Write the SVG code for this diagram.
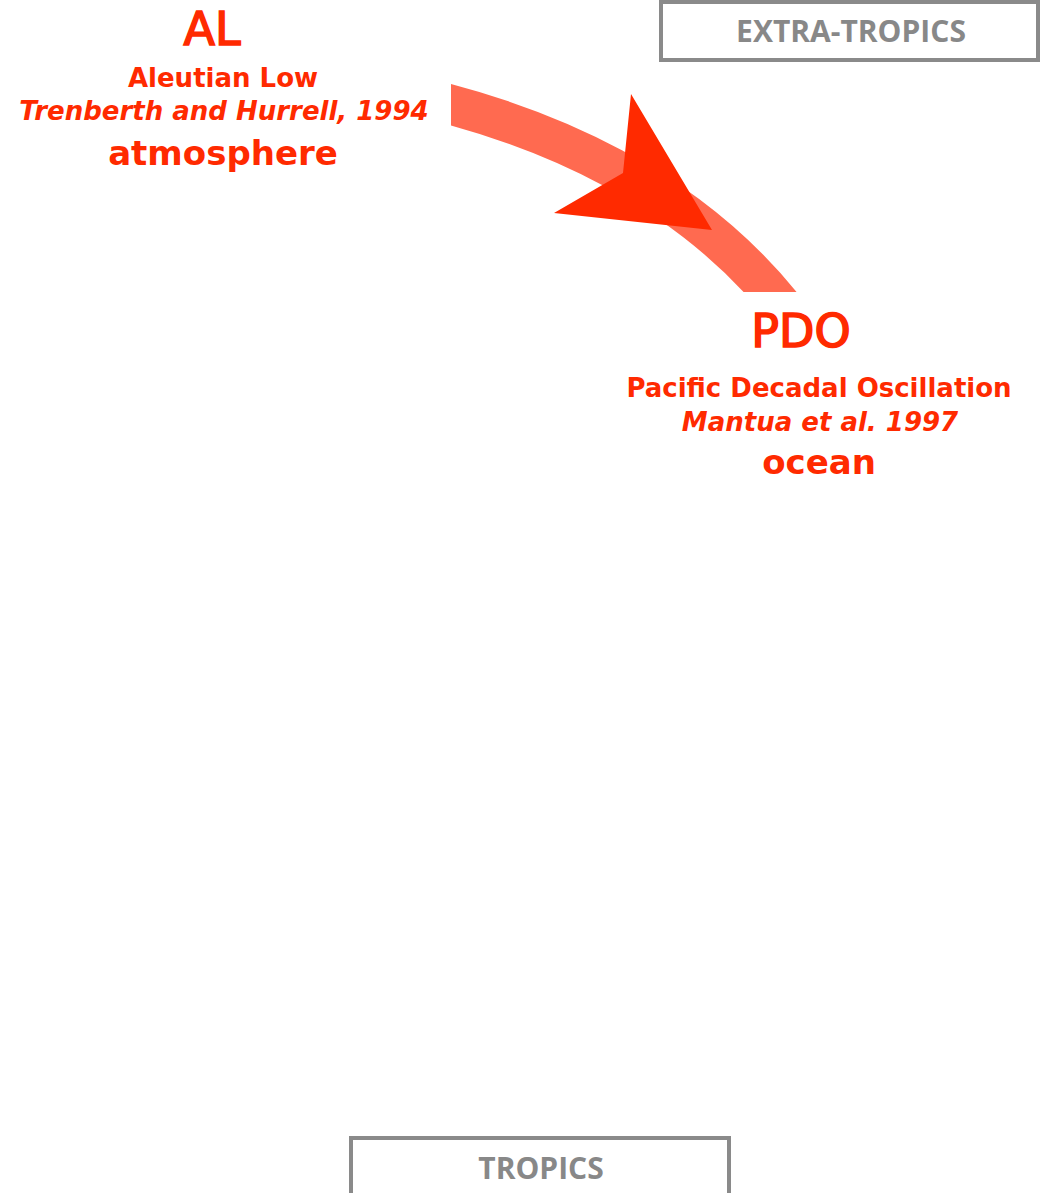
<svg xmlns="http://www.w3.org/2000/svg" width="1040" height="1193" viewBox="0 0 1040 1193">
<style>
.r{fill:#FF2A00;font-family:"DejaVu Sans",Verdana,sans-serif;text-anchor:middle}
.big{font-size:46px;stroke:#FF2A00;stroke-width:1.6}
.mid{font-size:26px;font-weight:bold}
.it{font-size:26px;font-weight:bold;font-style:italic}
.lg{font-size:34px;font-weight:bold}
.box{fill:#fff;stroke:#8a8a8a;stroke-width:4}
.bt{fill:#888;font-family:"Open Sans","DejaVu Sans",sans-serif;font-weight:bold;font-size:30px;text-anchor:middle}
</style>
<defs>
<clipPath id="arcclip"><rect x="451" y="0" width="589" height="292"/></clipPath>
</defs>
<rect width="1040" height="1193" fill="#fff"/>
<g id="connectors">
<path d="M 420 97 C 540 125 690 185 790 316" fill="none" stroke="#FF6A50" stroke-width="40" clip-path="url(#arcclip)"/>
<polygon points="631,94 712,230 554,213 623,173" fill="#FF2A00"/>
</g>
<g id="node-al">
<text class="r big" x="212" y="45">AL</text>
<text class="r mid" x="223" y="87">Aleutian Low</text>
<text class="r it" x="224" y="120">Trenberth and Hurrell, 1994</text>
<text class="r lg" x="223" y="165">atmosphere</text>
</g>
<g id="node-pdo">
<text class="r big" x="801" y="347">PDO</text>
<text class="r mid" x="819" y="397">Pacific Decadal Oscillation</text>
<text class="r it" x="820" y="431">Mantua et al. 1997</text>
<text class="r lg" x="819" y="474">ocean</text>
</g>
<g id="node-extratropics">
<rect class="box" x="661" y="2" width="377" height="58"/>
<text class="bt" x="851" y="42">EXTRA-TROPICS</text>
</g>
<g id="node-tropics">
<rect class="box" x="351" y="1138" width="378" height="70"/>
<text class="bt" x="541" y="1179">TROPICS</text>
</g>
</svg>
